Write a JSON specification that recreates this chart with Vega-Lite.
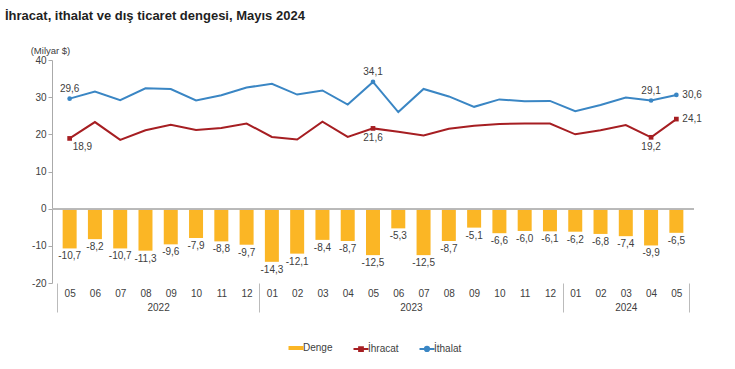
{
  "$schema": "https://vega.github.io/schema/vega-lite/v6.json",
  "autosize": {"type": "none"},
  "width": 642,
  "height": 223,
  "padding": {"left": 52, "top": 60, "right": 41, "bottom": 86},
  "background": "white",
  "title": {
    "text": "İhracat, ithalat ve dış ticaret dengesi, Mayıs 2024",
    "anchor": "start",
    "frame": "group",
    "fontSize": 13,
    "fontWeight": "bold",
    "color": "#1f1f1f",
    "dx": -47,
    "offset": 22
  },
  "config": {
    "font": "Liberation Sans",
    "view": {"stroke": null},
    "axisY": {
      "titleAngle": 0, "titleX": -2, "titleY": -5,
      "titleAlign": "center", "titleBaseline": "bottom", "titleFontSize": 9.5,
      "titleFontWeight": "normal", "titleColor": "#404040",
      "grid": false, "tickSize": 4, "tickColor": "#aaaaaa", "domainColor": "#aaaaaa",
      "labelFontSize": 10, "labelColor": "#404040", "labelPadding": 2, "labelOverlap": false
    },
    "locale": {
      "number": {"decimal": ",", "thousands": ".", "grouping": [3], "currency": ["", " $"], "minus": "-"}
    }
  },
  "data": {
    "values": [
      {"t": 0, "Denge": -10.7, "İhracat": 18.9, "İthalat": 29.6},
      {"t": 1, "Denge": -8.2, "İhracat": 23.3, "İthalat": 31.5},
      {"t": 2, "Denge": -10.7, "İhracat": 18.5, "İthalat": 29.2},
      {"t": 3, "Denge": -11.3, "İhracat": 21.1, "İthalat": 32.4},
      {"t": 4, "Denge": -9.6, "İhracat": 22.6, "İthalat": 32.2},
      {"t": 5, "Denge": -7.9, "İhracat": 21.2, "İthalat": 29.1},
      {"t": 6, "Denge": -8.8, "İhracat": 21.7, "İthalat": 30.5},
      {"t": 7, "Denge": -9.7, "İhracat": 22.9, "İthalat": 32.6},
      {"t": 8, "Denge": -14.3, "İhracat": 19.3, "İthalat": 33.6},
      {"t": 9, "Denge": -12.1, "İhracat": 18.6, "İthalat": 30.7},
      {"t": 10, "Denge": -8.4, "İhracat": 23.4, "İthalat": 31.8},
      {"t": 11, "Denge": -8.7, "İhracat": 19.3, "İthalat": 28.0},
      {"t": 12, "Denge": -12.5, "İhracat": 21.6, "İthalat": 34.1},
      {"t": 13, "Denge": -5.3, "İhracat": 20.7, "İthalat": 26.0},
      {"t": 14, "Denge": -12.5, "İhracat": 19.7, "İthalat": 32.2},
      {"t": 15, "Denge": -8.7, "İhracat": 21.5, "İthalat": 30.2},
      {"t": 16, "Denge": -5.1, "İhracat": 22.3, "İthalat": 27.4},
      {"t": 17, "Denge": -6.6, "İhracat": 22.8, "İthalat": 29.4},
      {"t": 18, "Denge": -6.0, "İhracat": 22.9, "İthalat": 28.9},
      {"t": 19, "Denge": -6.1, "İhracat": 22.9, "İthalat": 29.0},
      {"t": 20, "Denge": -6.2, "İhracat": 20.0, "İthalat": 26.2},
      {"t": 21, "Denge": -6.8, "İhracat": 21.1, "İthalat": 27.9},
      {"t": 22, "Denge": -7.4, "İhracat": 22.5, "İthalat": 29.9},
      {"t": 23, "Denge": -9.9, "İhracat": 19.2, "İthalat": 29.1},
      {"t": 24, "Denge": -6.5, "İhracat": 24.1, "İthalat": 30.6}
    ]
  },
  "resolve": {"axis": {"x": "independent"}},
  "layer": [
    {
      "mark": {"type": "bar", "size": 14},
      "encoding": {
        "x": {
          "field": "t", "type": "quantitative",
          "scale": {"domain": [-0.5, 24.5], "nice": false, "zero": false},
          "axis": {
            "orient": "bottom",
            "title": null, "values": [0,1,2,3,4,5,6,7,8,9,10,11,12,13,14,15,16,17,18,19,20,21,22,23,24],
            "labelExpr": "['05','06','07','08','09','10','11','12','01','02','03','04'][datum.value % 12]",
            "ticks": false, "domain": false, "grid": false, "labelPadding": 5,
            "labelFontSize": 10, "labelColor": "#404040", "labelFlush": false
          }
        },
        "y": {
          "field": "Denge", "type": "quantitative",
          "title": "(Milyar $)",
          "scale": {"domain": [-20, 40], "nice": false},
          "axis": {"title": "(Milyar $)", "values": [-20, -10, 0, 10, 20, 30, 40], "tickCount": 7, "format": "d"}
        },
        "color": {"datum": "Denge"}
      }
    },
    {
      "mark": {"type": "rule", "color": "#bbbbbb", "strokeWidth": 1},
      "encoding": {"y": {"datum": 0, "title": "(Milyar $)", "axis": {"title": "(Milyar $)", "values": [-20, -10, 0, 10, 20, 30, 40], "tickCount": 7, "format": "d"}}}
    },
    {
      "mark": {"type": "text", "baseline": "top", "dy": 3, "fontSize": 10, "color": "#404040"},
      "encoding": {
        "x": {"field": "t", "type": "quantitative", "axis": null},
        "y": {"field": "Denge", "type": "quantitative", "title": "(Milyar $)", "axis": {"title": "(Milyar $)", "values": [-20, -10, 0, 10, 20, 30, 40], "tickCount": 7, "format": "d"}},
        "text": {"field": "Denge", "type": "quantitative", "format": ".1f"}
      }
    },
    {
      "transform": [{"fold": ["İhracat", "İthalat"], "as": ["seri", "deger"]}],
      "mark": {"type": "line", "strokeWidth": 2},
      "encoding": {
        "x": {
          "field": "t", "type": "quantitative",
          "axis": {
            "orient": "bottom",
            "title": null, "values": [-0.5, 7.5, 19.5, 24.5], "labels": false,
            "domain": false, "grid": false, "tickSize": 29, "tickColor": "#bbbbbb"
          }
        },
        "y": {"field": "deger", "type": "quantitative", "title": "(Milyar $)", "axis": {"title": "(Milyar $)", "values": [-20, -10, 0, 10, 20, 30, 40], "tickCount": 7, "format": "d"}},
        "color": {
          "field": "seri", "type": "nominal",
          "scale": {"domain": ["Denge", "İhracat", "İthalat"], "range": ["#FBB625", "#A61E22", "#3A86C4"]},
          "legend": {
            "title": null, "orient": "none", "direction": "horizontal",
            "legendX": 239, "legendY": 283, "symbolType": "stroke", "symbolSize": 225,
            "symbolStrokeWidth": 2, "labelFontSize": 10, "labelColor": "#404040",
            "labelOffset": 2, "columnPadding": 16,
            "encode": {
              "symbols": {
                "update": {
                  "strokeWidth": {"signal": "datum.value === 'Denge' ? 4 : 2"},
                  "shape": {"signal": "datum.value === 'Denge' ? 'stroke' : datum.value === 'İhracat' ? 'M-1,0H1M-0.25,-0.25H0.25V0.25H-0.25Z' : 'M-1,0H1M-0.28,0A0.28,0.28,0,1,0,0.28,0A0.28,0.28,0,1,0,-0.28,0Z'"},
                  "fill": {"signal": "scale('color', datum.value)"}
                }
              }
            }
          }
        }
      }
    },
    {
      "transform": [
        {"fold": ["İhracat", "İthalat"], "as": ["seri", "deger"]},
        {"filter": {"field": "t", "oneOf": [0, 12, 23, 24]}}
      ],
      "mark": {"type": "point", "filled": true, "size": 22, "opacity": 1},
      "encoding": {
        "x": {"field": "t", "type": "quantitative", "axis": null},
        "y": {"field": "deger", "type": "quantitative", "title": "(Milyar $)", "axis": {"title": "(Milyar $)", "values": [-20, -10, 0, 10, 20, 30, 40], "tickCount": 7, "format": "d"}},
        "color": {"field": "seri", "type": "nominal"},
        "shape": {"field": "seri", "type": "nominal", "scale": {"domain": ["İhracat", "İthalat"], "range": ["square", "circle"]}, "legend": null}
      }
    },
    {
      "transform": [{"filter": {"field": "t", "oneOf": [0, 12, 23]}}],
      "mark": {"type": "text", "baseline": "bottom", "dy": -5, "fontSize": 10, "color": "#404040"},
      "encoding": {
        "x": {"field": "t", "type": "quantitative", "axis": null},
        "y": {"field": "İthalat", "type": "quantitative", "title": "(Milyar $)", "axis": {"title": "(Milyar $)", "values": [-20, -10, 0, 10, 20, 30, 40], "tickCount": 7, "format": "d"}},
        "text": {"field": "İthalat", "type": "quantitative", "format": ".1f"}
      }
    },
    {
      "transform": [{"filter": {"field": "t", "oneOf": [12, 23]}}],
      "mark": {"type": "text", "baseline": "top", "dy": 5, "fontSize": 10, "color": "#404040"},
      "encoding": {
        "x": {"field": "t", "type": "quantitative", "axis": null},
        "y": {"field": "İhracat", "type": "quantitative", "title": "(Milyar $)", "axis": {"title": "(Milyar $)", "values": [-20, -10, 0, 10, 20, 30, 40], "tickCount": 7, "format": "d"}},
        "text": {"field": "İhracat", "type": "quantitative", "format": ".1f"}
      }
    },
    {
      "transform": [{"filter": {"field": "t", "equal": 0}}],
      "mark": {"type": "text", "baseline": "top", "align": "left", "dx": 3, "dy": 4, "fontSize": 10, "color": "#404040"},
      "encoding": {
        "x": {"field": "t", "type": "quantitative", "axis": null},
        "y": {"field": "İhracat", "type": "quantitative", "title": "(Milyar $)", "axis": {"title": "(Milyar $)", "values": [-20, -10, 0, 10, 20, 30, 40], "tickCount": 7, "format": "d"}},
        "text": {"field": "İhracat", "type": "quantitative", "format": ".1f"}
      }
    },
    {
      "transform": [{"filter": {"field": "t", "equal": 24}}, {"fold": ["İhracat", "İthalat"], "as": ["seri", "deger"]}],
      "mark": {"type": "text", "baseline": "middle", "align": "left", "dx": 6, "fontSize": 10, "color": "#404040"},
      "encoding": {
        "x": {"field": "t", "type": "quantitative", "axis": null},
        "y": {"field": "deger", "type": "quantitative", "title": "(Milyar $)", "axis": {"title": "(Milyar $)", "values": [-20, -10, 0, 10, 20, 30, 40], "tickCount": 7, "format": "d"}},
        "text": {"field": "deger", "type": "quantitative", "format": ".1f"}
      }
    },
    {
      "mark": {"type": "rule", "opacity": 0},
      "encoding": {
        "x": {
          "datum": 3.5, "type": "quantitative",
          "axis": {
            "orient": "bottom",
            "title": null, "values": [3.5, 13.5, 22],
            "labelExpr": "datum.value < 7 ? '2022' : datum.value < 20 ? '2023' : '2024'",
            "ticks": false, "domain": false, "grid": false, "labelPadding": 19,
            "labelFontSize": 10, "labelColor": "#404040"
          }
        }
      }
    }
  ]
}
